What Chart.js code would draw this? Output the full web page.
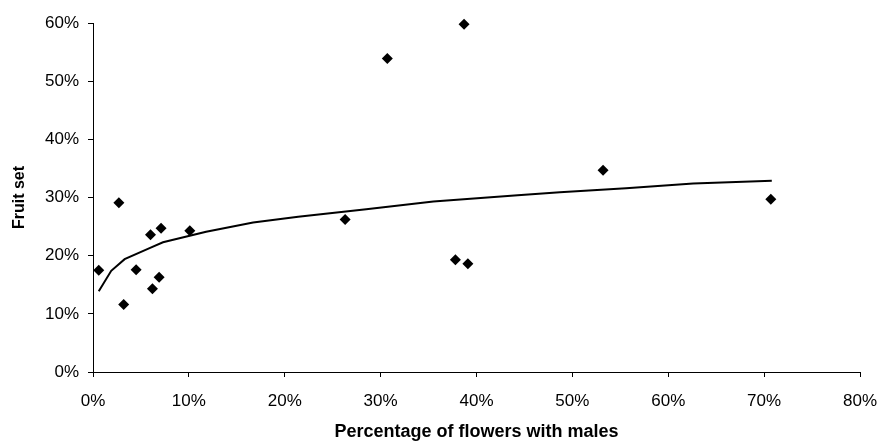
<!DOCTYPE html>
<html>
<head>
<meta charset="utf-8">
<title>Fruit set</title>
<script src="https://cdn.jsdelivr.net/npm/chart.js@4.4.1/dist/chart.umd.min.js"></script>
<style>
  html, body { margin: 0; padding: 0; background: #fff; }
  #wrap { width: 880px; height: 441px; }
</style>
</head>
<body>
<div id="wrap"><canvas id="fruitChart" width="880" height="441"></canvas></div>
<script>
// percentage of flowers with males (x) and fruit set (y), both in %
const maleShare = [0.6, 2.7, 3.2, 4.5, 6.0, 6.2, 6.9, 7.1, 10.1, 26.3, 30.7, 38.7, 37.8, 39.1, 53.2, 70.7];
const fruitSet  = [17.5, 29.1, 11.6, 17.6, 23.6, 14.3, 16.3, 24.7, 24.3, 26.2, 53.9, 59.8, 19.3, 18.6, 34.7, 29.7];

// trendline
const trendX = [0.6, 1.9, 3.3, 5.9, 7.3, 11.8, 16.7, 21.4, 28.5, 35.5, 44.3, 48.7, 55.6, 62.6, 70.8];
const trendY = [13.9, 17.4, 19.4, 21.3, 22.3, 24.1, 25.7, 26.7, 28.0, 29.3, 30.4, 30.9, 31.6, 32.4, 32.9];

const xTicks = [0, 10, 20, 30, 40, 50, 60, 70, 80];
const yTicks = [0, 10, 20, 30, 40, 50, 60];

const font = '"Liberation Sans", Arial, sans-serif';

const points = maleShare.map((x, i) => ({ x: x, y: fruitSet[i] }));
const trend = trendX.map((x, i) => ({ x: x, y: trendY[i] }));

const ctx = document.getElementById('fruitChart').getContext('2d');
new Chart(ctx, {
  type: 'scatter',
  data: {
    datasets: [{
      label: 'Fruit set',
      data: points,
      clip: false,
      pointStyle: 'rectRot',
      pointRadius: 5.5,
      backgroundColor: '#000',
      borderColor: '#000',
      borderWidth: 0
    }, {
      label: 'Trend',
      data: trend,
      showLine: true,
      pointRadius: 0,
      borderColor: '#000',
      borderWidth: 2,
      tension: 0
    }]
  },
  options: {
    responsive: false,
    animation: false,
    layout: { padding: { left: 0, right: 20, top: 23, bottom: 0 } },
    plugins: {
      legend: { display: false },
      tooltip: { enabled: false }
    },
    scales: {
      x: {
        type: 'linear',
        min: 0,
        max: 80,
        afterBuildTicks: (scale) => { scale.ticks = xTicks.map(v => ({ value: v })); },
        afterFit: (scale) => {
          scale.height = 69;
          scale.paddingLeft = 0;
          scale.paddingRight = 0;
        },
        border: { display: true, color: '#000', width: 1 },
        grid: { display: true, drawOnChartArea: false, drawTicks: true, tickLength: 5, color: '#000' },
        ticks: {
          color: '#000',
          padding: 14,
          maxRotation: 0,
          font: { family: font, size: 17 },
          callback: (value) => value + '%'
        },
        title: {
          display: true,
          text: 'Percentage of flowers with males',
          color: '#000',
          padding: { top: 0, bottom: 0 },
          font: { family: font, size: 18, weight: 'bold', lineHeight: 1 }
        }
      },
      y: {
        type: 'linear',
        min: 0,
        max: 60,
        afterBuildTicks: (scale) => { scale.ticks = yTicks.map(v => ({ value: v })); },
        afterFit: (scale) => {
          scale.width = 93;
          scale.paddingTop = 0;
          scale.paddingBottom = 0;
        },
        border: { display: true, color: '#000', width: 1 },
        grid: { display: true, drawOnChartArea: false, drawTicks: true, tickLength: 5, color: '#000' },
        ticks: {
          color: '#000',
          padding: 9,
          font: { family: font, size: 17 },
          callback: (value) => value + '%'
        },
        title: {
          display: true,
          text: 'Fruit set',
          color: '#000',
          padding: { top: 10, bottom: 0 },
          font: { family: font, size: 16, weight: 'bold' }
        }
      }
    }
  }
});
</script>
</body>
</html>
